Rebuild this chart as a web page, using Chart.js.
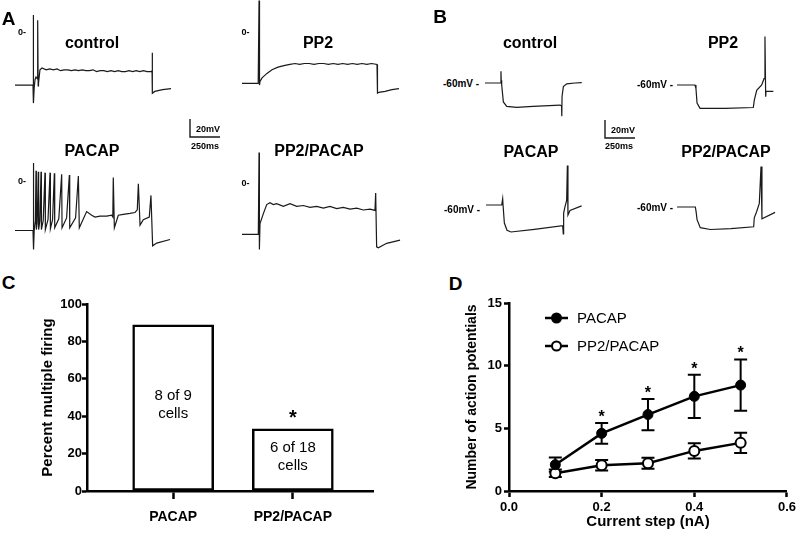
<!DOCTYPE html>
<html>
<head>
<meta charset="utf-8">
<script src="https://cdn.jsdelivr.net/npm/chart.js@4.4.1/dist/chart.umd.min.js"></script>
<style>
html, body { margin: 0; padding: 0; background: #fff; overflow: hidden; }
#fig { position: relative; width: 799px; height: 538px; font-family: "Liberation Sans", Arial, sans-serif; color: #000; }
#fig canvas { position: absolute; }
.lbl { position: absolute; white-space: nowrap; font-weight: bold; line-height: 1; transform: translateY(-50%); }
.ctr { transform: translate(-50%, -50%); }
</style>
</head>
<body>
<div id="fig"></div>
<script>
// ---- panel A: current clamp traces (time in ms, Vm in mV) ----
const aCtrlT = [0, 148, 150, 152, 155, 160, 167, 175, 187, 189, 193, 196, 208, 225, 260, 290, 320, 350, 380, 410, 440, 470, 500, 530, 560, 590, 620, 650, 680, 710, 740, 770, 800, 830, 860, 890, 920, 950, 980, 1010, 1040, 1070, 1100, 1135, 1142, 1143, 1146, 1165, 1230, 1300];
const aCtrlV = [-59, -59, -60, 19, -79, -62, -53, -50, -52, 13, -60, -57, -42, -40, -42, -41, -42, -41, -43, -42, -42, -43, -42, -43, -42, -43, -43, -42, -44, -43, -43, -44, -43, -44, -43, -44, -44, -43, -44, -43, -44, -43, -44, -44, -43, -23, -68, -66, -64, -63];

const aPp2T = [0, 135, 142, 146, 150, 167, 208, 250, 300, 358, 400, 442, 480, 520, 560, 600, 640, 680, 720, 760, 800, 840, 880, 920, 960, 1000, 1040, 1080, 1125, 1129, 1140, 1192, 1250, 1308];
const aPp2V = [-57, -57, 35, -59, -55, -51, -46, -42, -39, -37, -36, -35, -36, -35, -35, -36, -35, -35, -36, -35, -36, -35, -36, -35, -36, -35, -36, -35, -36, -68, -67, -66, -64, -63];

const aPacapT = [0, 150, 153, 156, 160, 170, 175, 178, 185, 194, 197, 207, 217, 220, 235, 250, 253, 275, 292, 295, 313, 328, 331, 365, 389, 392, 430, 453, 456, 505, 528, 536, 597, 639, 667, 708, 764, 806, 815, 819, 828, 861, 903, 958, 1000, 1019, 1028, 1042, 1069, 1119, 1133, 1147, 1181, 1292];
const aPacapV = [-55, -55, 20, -76, -55, -44, 11.5, -54, -46, 10.4, -54, -44, 10.4, -54, -44, 9.3, -54, -43, 9.3, -53, -43, 8.5, -52, -42, 7.4, -52, -41, 6.7, -52, -41, 5.6, -52, -34, -38, -40, -39, -39, -38, -40, 4, -52, -38, -37, -36, -35, -32, -3, -49, -43, -40, -16, -72, -69, -65];

const aBothT = [0, 136, 142, 145, 150, 178, 206, 233, 261, 289, 344, 400, 456, 511, 567, 622, 678, 733, 789, 844, 900, 956, 1011, 1067, 1108, 1114, 1122, 1136, 1206, 1317];
const aBothV = [-57, -57, 34, -74, -45, -34, -24, -22, -24, -23, -26, -23, -26, -25, -27, -26, -28, -26, -28.5, -27, -29, -28, -30, -29, -30.5, -11, -71, -72, -67, -63.5];

// ---- panel B: hyperpolarising steps ----
const bCtrlT = [0, 125, 133, 135, 139, 153, 181, 264, 400, 625, 638, 640, 642, 653, 681, 750, 806];
const bCtrlV = [-60, -60, -47, -57, -62, -81, -86, -87, -86, -84.5, -85.5, -97, -75, -64, -61, -60, -59.5];

const bPp2T = [0, 150, 158, 167, 192, 400, 636, 644, 664, 706, 725, 733, 739, 742, 803];
const bPp2V = [-60, -60, -64, -80, -86, -86, -85, -77, -66, -60, -53, -6, -73, -67, -67];

const bPacapT = [0, 131, 139, 142, 153, 175, 208, 403, 639, 644, 647, 658, 672, 678, 683, 700, 797];
const bPacapV = [-60, -60, -53, -60, -80, -88, -90, -87, -83, -92, -69, -62, -55, -16, -71, -66, -61];

const bBothT = [0, 153, 160, 167, 194, 278, 450, 639, 644, 664, 686, 700, 708, 817];
const bBothV = [-60, -60, -66, -74, -83, -85, -84, -82, -72, -65, -56, -15, -73, -66];

// scale bar: 250 ms by 20 mV
const barT = [0, 0, 250];
const barV = [20, 0, 0];

// ---- panel C ----
const groups = ['PACAP', 'PP2/PACAP'];
const percentFiring = [88.9, 33.3];
const cellCounts = ['8 of 9', '6 of 18'];
const sigC = [false, true];

// ---- panel D ----
const currents = [0.1, 0.2, 0.3, 0.4, 0.5];
const pacapMean = [2.1, 4.6, 6.1, 7.55, 8.45];
const pacapSem = [0.57, 0.83, 1.25, 1.72, 2.05];
const pp2Mean = [1.42, 2.06, 2.22, 3.2, 3.84];
const pp2Sem = [0.3, 0.42, 0.44, 0.6, 0.8];
const sigD = [false, true, true, true, true];

const FONT = '"Liberation Sans", Arial, sans-serif';
const fig = document.getElementById('fig');

// traces all share one scale: 0.12 px per ms, 0.9 px per mV
const MS_PX = 0.12, MV_PX = 0.9;
const T_MIN = -25, T_MAX = 1375, V_MIN = -100, V_MAX = 40;

function addCanvas(left, top, w, h) {
  const cv = document.createElement('canvas');
  cv.width = w; cv.height = h;
  cv.style.left = left + 'px';
  cv.style.top = top + 'px';
  fig.appendChild(cv);
  return cv;
}

function addTrace(t, v, left, top, lw) {
  const cv = addCanvas(left, top, Math.round((T_MAX - T_MIN) * MS_PX), Math.round((V_MAX - V_MIN) * MV_PX));
  new Chart(cv.getContext('2d'), {
    type: 'line',
    data: {
      datasets: [{
        data: t.map((x, i) => ({ x: x, y: v[i] })),
        borderColor: '#1a1a1a',
        borderWidth: lw || 1.2,
        pointRadius: 0,
        tension: 0,
        clip: false
      }]
    },
    options: {
      responsive: false,
      animation: false,
      events: [],
      layout: { padding: 0 },
      plugins: { legend: { display: false }, tooltip: { enabled: false } },
      scales: {
        x: { type: 'linear', display: false, min: T_MIN, max: T_MAX },
        y: { type: 'linear', display: false, min: V_MIN, max: V_MAX }
      }
    }
  });
}

function label(text, x, y, size, center, weight) {
  const d = document.createElement('div');
  d.className = 'lbl' + (center ? ' ctr' : '');
  d.textContent = text;
  d.style.left = x + 'px';
  d.style.top = y + 'px';
  d.style.fontSize = size + 'px';
  if (weight) d.style.fontWeight = weight;
  fig.appendChild(d);
}

// trace canvases (left/top put t=0 at the trace start and 0 mV at the "0-" mark)
addTrace(aCtrlT, aCtrlV, 12, -4);
addTrace(aPp2T, aPp2V, 239, -4);
addTrace(aPacapT, aPacapV, 12, 145);
addTrace(aBothT, aBothV, 239, 147);
addTrace(bCtrlT, bCtrlV, 482, -7);
addTrace(bPp2T, bPp2V, 674, -5);
addTrace(bPacapT, bPacapV, 483, 115);
addTrace(bBothT, bBothV, 674, 117);
addTrace(barT, barV, 187, 101, 1.4);
addTrace(barT, barV, 602, 102, 1.4);

// panel letters
label('A', 8.5, 17.5, 19, true);
label('B', 440, 16, 19, true);
label('C', 8.5, 281.5, 19, true);
label('D', 455.5, 282.5, 19, true);

// trace titles
label('control', 92, 43, 16, true);
label('PP2', 318, 43, 16, true);
label('PACAP', 92, 151, 16, true);
label('PP2/PACAP', 319, 151, 16, true);
label('control', 530, 43, 16, true);
label('PP2', 723, 43, 16, true);
label('PACAP', 531, 152, 16, true);
label('PP2/PACAP', 726, 152, 16, true);

// zero / holding potential marks
label('0-', 18, 31.5, 9);
label('0-', 241.5, 31.5, 9);
label('0-', 18, 181, 9);
label('0-', 241.5, 182.5, 9);
label('-60mV -', 443, 83.5, 10);
label('-60mV -', 637, 85, 10);
label('-60mV -', 444, 209.5, 10);
label('-60mV -', 637, 207.5, 10);

// scale bar text
label('20mV', 196, 129, 9);
label('250ms', 191, 145.5, 9);
label('20mV', 611, 129.5, 9);
label('250ms', 605, 145.5, 9);

const tickFont = { family: FONT, size: 13, weight: 'bold' };

// ---- C: bar chart ----
const barLabels = {
  id: 'barLabels',
  afterDatasetsDraw(chart) {
    const ctx = chart.ctx;
    const meta = chart.getDatasetMeta(0);
    ctx.save();
    ctx.fillStyle = '#000';
    ctx.textAlign = 'center';
    meta.data.forEach((bar, i) => {
      const mid = (bar.y + bar.base) / 2 - 3;
      ctx.font = '15px ' + FONT;
      ctx.textBaseline = 'middle';
      ctx.fillText(cellCounts[i], bar.x, mid - 9);
      ctx.fillText('cells', bar.x, mid + 9);
      if (sigC[i]) {
        ctx.font = 'bold 20px ' + FONT;
        ctx.textBaseline = 'alphabetic';
        ctx.fillText('*', bar.x, bar.y - 5);
      }
    });
    ctx.restore();
  }
};

const cvC = addCanvas(0, 290, 400, 248);
new Chart(cvC.getContext('2d'), {
  type: 'bar',
  data: {
    datasets: [{
      data: groups.map((g, i) => ({ x: i + 1, y: percentFiring[i] })),
      backgroundColor: '#fff',
      borderColor: '#000',
      borderWidth: 2.5,
      borderSkipped: false,
      barThickness: 81
    }]
  },
  options: {
    responsive: false,
    animation: false,
    events: [],
    layout: { padding: { top: 14, right: 27, left: 0, bottom: 0 } },
    plugins: { legend: { display: false }, tooltip: { enabled: false } },
    scales: {
      x: {
        type: 'linear',
        min: 0.28,
        max: 2.67,
        offset: false,
        afterBuildTicks: s => { s.ticks = groups.map((g, i) => ({ value: i + 1 })); },
        afterFit: s => { s.height = 47; },
        ticks: {
          callback: v => groups[Math.round(v) - 1],
          font: { family: FONT, size: 14, weight: 'bold' },
          color: '#000',
          padding: 10,
          maxRotation: 0,
          autoSkip: false
        },
        grid: { offset: false, drawOnChartArea: false, tickLength: 8, tickWidth: 2.5, tickColor: '#000' },
        border: { color: '#000', width: 2.5 }
      },
      y: {
        min: 0,
        max: 100,
        afterFit: s => { s.width = 87; },
        ticks: { stepSize: 20, font: tickFont, color: '#000', padding: 0 },
        grid: { drawOnChartArea: false, tickLength: 5, tickWidth: 2.5, tickColor: '#000' },
        border: { color: '#000', width: 2.5 },
        title: {
          display: true,
          text: 'Percent multiple firing',
          color: '#000',
          font: { family: FONT, size: 15, weight: 'bold' },
          padding: { top: 39, bottom: 0 }
        }
      }
    }
  },
  plugins: [barLabels]
});

// ---- D: line chart with error bars ----
const errorBars = {
  id: 'errorBars',
  beforeDatasetsDraw(chart) {
    const { ctx, scales: { x, y } } = chart;
    ctx.save();
    ctx.strokeStyle = '#000';
    ctx.lineWidth = 2;
    [[pacapMean, pacapSem], [pp2Mean, pp2Sem]].forEach(([m, e]) => {
      currents.forEach((c, i) => {
        const px = x.getPixelForValue(c);
        const hi = y.getPixelForValue(m[i] + e[i]);
        const lo = y.getPixelForValue(m[i] - e[i]);
        ctx.beginPath();
        ctx.moveTo(px, hi); ctx.lineTo(px, lo);
        ctx.moveTo(px - 6.5, hi); ctx.lineTo(px + 6.5, hi);
        ctx.moveTo(px - 6.5, lo); ctx.lineTo(px + 6.5, lo);
        ctx.stroke();
      });
    });
    ctx.restore();
  },
  afterDatasetsDraw(chart) {
    const { ctx, scales: { x, y } } = chart;
    ctx.save();
    ctx.fillStyle = '#000';
    ctx.textAlign = 'center';
    ctx.textBaseline = 'alphabetic';
    ctx.font = 'bold 16px ' + FONT;
    currents.forEach((c, i) => {
      if (sigD[i]) ctx.fillText('*', x.getPixelForValue(c), y.getPixelForValue(pacapMean[i] + pacapSem[i]) - 1);
    });
    // legend
    chart.data.datasets.forEach((ds, i) => {
      const ly = 28 + i * 28;
      ctx.strokeStyle = '#000';
      ctx.lineWidth = 2.5;
      ctx.beginPath(); ctx.moveTo(145, ly); ctx.lineTo(168, ly); ctx.stroke();
      ctx.beginPath(); ctx.arc(156.5, ly, 4.5, 0, Math.PI * 2);
      ctx.fillStyle = ds.pointBackgroundColor; ctx.fill();
      ctx.lineWidth = 2; ctx.stroke();
      ctx.fillStyle = '#000';
      ctx.textAlign = 'left';
      ctx.textBaseline = 'middle';
      ctx.font = '15px ' + FONT;
      ctx.fillText(ds.label, 177, ly + 1);
    });
    ctx.restore();
  }
};

const cvD = addCanvas(400, 290, 399, 248);
new Chart(cvD.getContext('2d'), {
  type: 'line',
  data: {
    datasets: [{
      label: 'PACAP',
      data: currents.map((c, i) => ({ x: c, y: pacapMean[i] })),
      borderColor: '#000',
      borderWidth: 2.5,
      pointRadius: 5,
      pointBackgroundColor: '#000',
      pointBorderColor: '#000',
      pointBorderWidth: 1,
      tension: 0
    }, {
      label: 'PP2/PACAP',
      data: currents.map((c, i) => ({ x: c, y: pp2Mean[i] })),
      borderColor: '#000',
      borderWidth: 2.5,
      pointRadius: 5,
      pointBackgroundColor: '#fff',
      pointBorderColor: '#000',
      pointBorderWidth: 2,
      tension: 0
    }]
  },
  options: {
    responsive: false,
    animation: false,
    events: [],
    layout: { padding: { top: 13, right: 6, left: 0, bottom: 0 } },
    plugins: { legend: { display: false }, tooltip: { enabled: false } },
    scales: {
      x: {
        type: 'linear',
        min: 0,
        max: 0.6,
        afterFit: s => { s.height = 47; },
        ticks: { stepSize: 0.2, callback: v => v.toFixed(1), font: tickFont, color: '#000', padding: 3, maxRotation: 0 },
        grid: { drawOnChartArea: false, tickLength: 6, tickWidth: 2.5, tickColor: '#000' },
        border: { color: '#000', width: 2.5 },
        title: {
          display: true,
          text: 'Current step (nA)',
          color: '#000',
          font: { family: FONT, size: 15, weight: 'bold' },
          padding: { top: 0, bottom: 7 }
        }
      },
      y: {
        min: 0,
        max: 15,
        afterFit: s => { s.width = 109; },
        ticks: { stepSize: 5, font: tickFont, color: '#000', padding: 2 },
        grid: { drawOnChartArea: false, tickLength: 5, tickWidth: 2.5, tickColor: '#000' },
        border: { color: '#000', width: 2.5 },
        title: {
          display: true,
          text: 'Number of action potentials',
          color: '#000',
          font: { family: FONT, size: 14, weight: 'bold' },
          padding: { top: 63.5, bottom: 0 }
        }
      }
    }
  },
  plugins: [errorBars]
});
</script>
</body>
</html>
